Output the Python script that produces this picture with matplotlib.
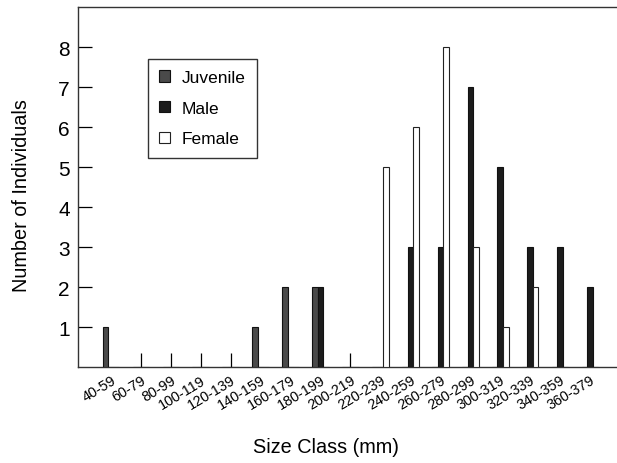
import matplotlib
matplotlib.use("Agg")
import matplotlib.pyplot as plt
import numpy as np

plt.rcParams['font.family'] = ['Liberation Sans', 'DejaVu Sans']

categories = ["40-59", "60-79", "80-99", "100-119", "120-139", "140-159",
              "160-179", "180-199", "200-219", "220-239", "240-259", "260-279",
              "280-299", "300-319", "320-339", "340-359", "360-379"]
juvenile = [1, 0, 0, 0, 0, 1, 2, 2, 0, 0, 0, 0, 0, 0, 0, 0, 0]
male     = [0, 0, 0, 0, 0, 0, 0, 2, 0, 0, 3, 3, 7, 5, 3, 3, 2]
female   = [0, 0, 0, 0, 0, 0, 0, 0, 0, 5, 6, 8, 3, 1, 2, 0, 0]

fig = plt.figure(figsize=(6.17, 4.64), dpi=100)
ax = fig.add_axes([78/617, 96/464, 1 - 78/617, (368-8)/464])

x = np.arange(len(categories))
w = 0.185
ax.bar(x - w, juvenile, w, color='#4a4a4a', edgecolor='#111111', linewidth=0.8, label='Juvenile', zorder=3)
ax.bar(x, male, w, color='#1c1c1c', edgecolor='#111111', linewidth=0.8, label='Male', zorder=3)
ax.bar(x + w, female, w, color='white', edgecolor='#222222', linewidth=0.8, label='Female', zorder=3)

ax.set_xlim(-1.1, 16.9)
ax.set_ylim(0, 9)
ax.set_yticks(range(1, 9))
ax.tick_params(axis='y', direction='in', length=10, width=0.9, labelsize=15, pad=6)

ax.set_xticks(x)
ax.set_xticklabels(categories, rotation=31, ha='right', va='top', rotation_mode='anchor', fontsize=10.4)
ax.tick_params(axis='x', which='major', length=0, pad=4)
ax.xaxis.remove_overlapping_locs = False
empty = [i for i in x if juvenile[i] + male[i] + female[i] == 0]
ax.set_xticks(empty, minor=True)
ax.tick_params(axis='x', which='minor', direction='in', length=10, width=0.9)

for s in ['left', 'bottom', 'top']:
    ax.spines[s].set_linewidth(1.0)
    ax.spines[s].set_color('#333333')
ax.spines['right'].set_visible(False)

ax.set_ylabel('Number of Individuals', fontsize=14.3)
ax.yaxis.set_label_coords(-0.088, 0.478)
ax.set_xlabel('Size Class (mm)', fontsize=14.3)
ax.xaxis.set_label_coords(0.461, -0.195)

leg = ax.legend(loc='upper left', bbox_to_anchor=(0.13, 0.856), borderaxespad=0,
                fontsize=12.5, fancybox=False, edgecolor='#333333', framealpha=1,
                handlelength=0.6, handleheight=0.6, handletextpad=0.7,
                labelspacing=0.9, borderpad=0.65)
leg.get_frame().set_linewidth(1.0)

fig.savefig('out.png', dpi=100)
